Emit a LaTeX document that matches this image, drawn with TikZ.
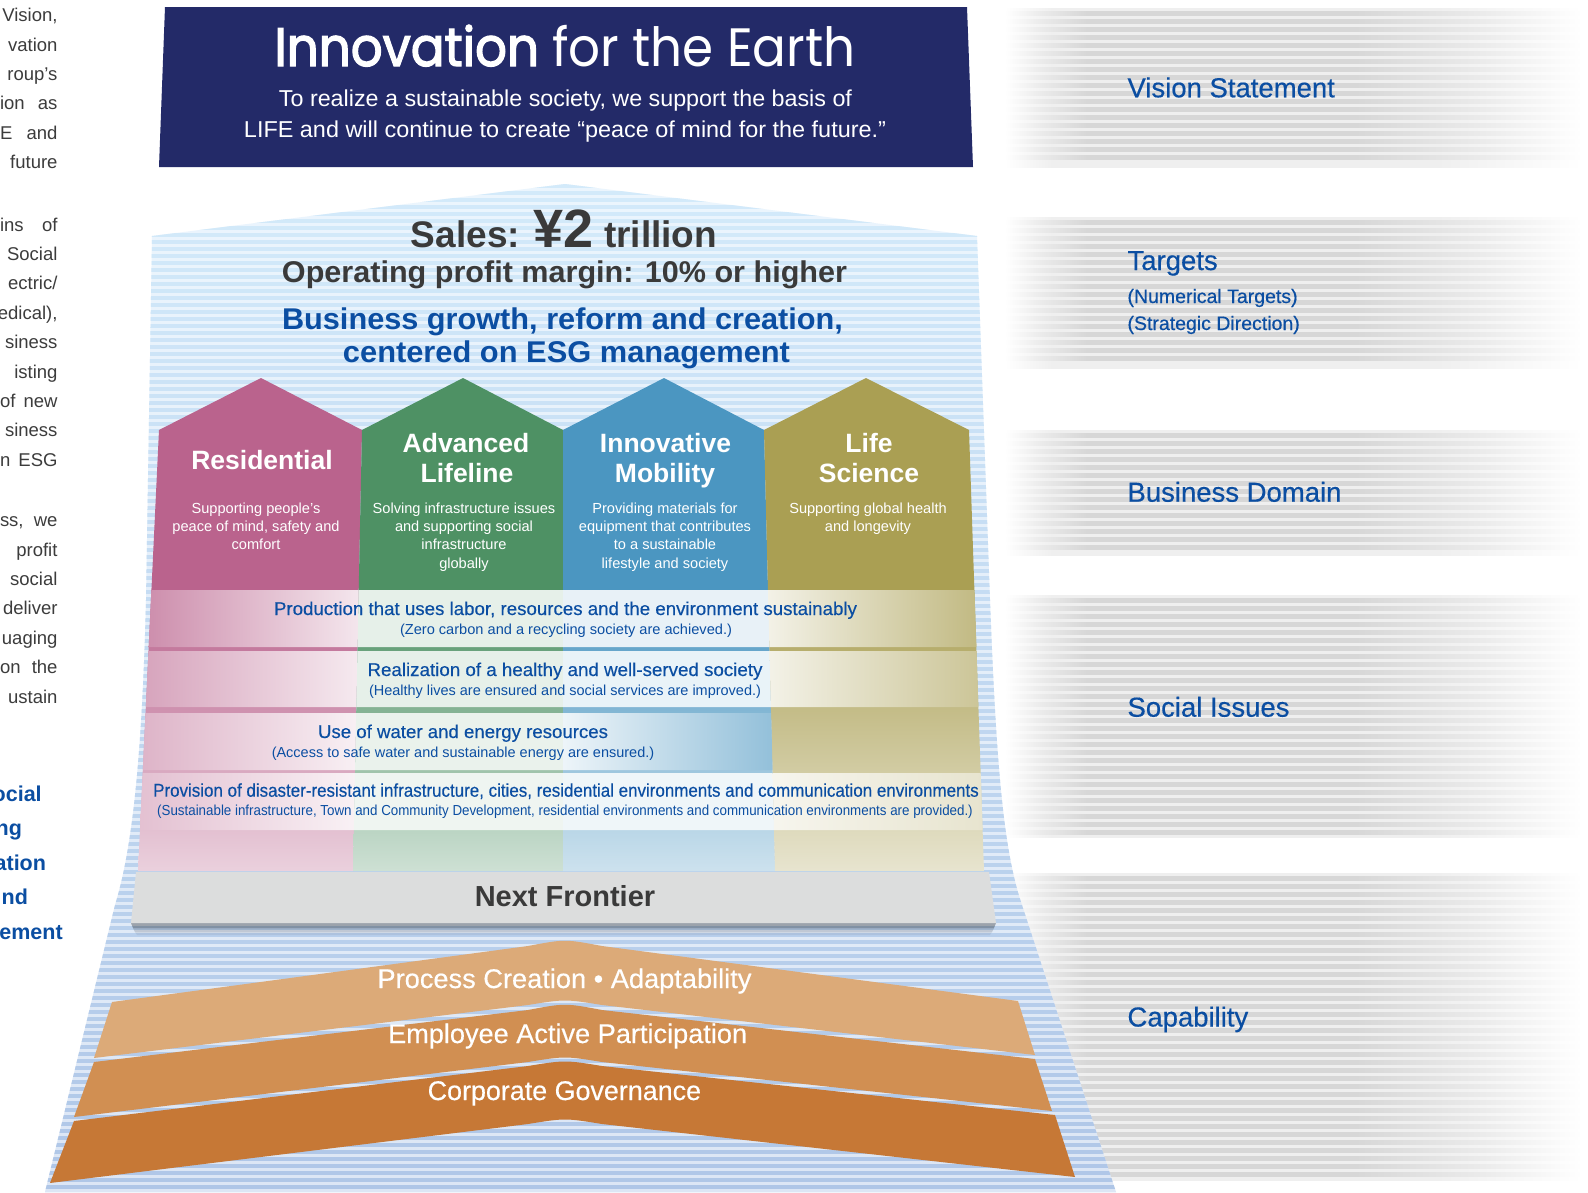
\documentclass[tikz,border=0pt]{standalone}
\usepackage{fontspec}
\usepackage{graphicx}
\setmainfont{Liberation Sans}
\newfontfamily\titlefont{Poppins}
\newfontfamily\titlefontb[FakeBold=2.5]{Poppins}
\newfontfamily\medfont[FakeBold=0.4]{Liberation Sans}
\usetikzlibrary{calc}

\definecolor{navy}{HTML}{232A68}
\definecolor{pk}{HTML}{BA638D}
\definecolor{gr}{HTML}{4E9164}
\definecolor{bl}{HTML}{4B96C1}
\definecolor{ol}{HTML}{AA9F53}
\definecolor{txtblue}{HTML}{0B4EA2}
\definecolor{darktxt}{HTML}{3A3A3A}
\definecolor{paratxt}{HTML}{3C3C3C}
\definecolor{nfgray}{HTML}{DCDDDD}
\definecolor{ca}{HTML}{DCAA78}
\definecolor{cb}{HTML}{D18F52}
\definecolor{cc}{HTML}{C67836}
\definecolor{stTopA}{HTML}{EBF5FD}
\definecolor{stTopB}{HTML}{D3EAFA}
\definecolor{stBotA}{HTML}{DCE6F5}
\definecolor{stBotB}{HTML}{AFC6E7}
\definecolor{gD}{HTML}{D7D7D7}
\definecolor{gL}{HTML}{EFEFEF}
\colorlet{gDh}{gD!50!white}
\colorlet{gDq}{gD!50!white}

\pgfdeclarehorizontalshading{bandD}{100bp}{color(0bp)=(white); color(25bp)=(white); color(28bp)=(gDh); color(32bp)=(gD); color(55bp)=(gD); color(66bp)=(gDq); color(74.5bp)=(white); color(100bp)=(white)}
\pgfdeclarehorizontalshading{bandL}{100bp}{color(0bp)=(white); color(25bp)=(white); color(29bp)=(gL); color(62bp)=(gL); color(74.5bp)=(white); color(100bp)=(white)}

\newcommand\fitw[2]{\resizebox{#1pt}{\height}{#2}}
\newcommand\just[1]{\makebox[57.5pt][s]{#1}}

\newcommand\grayband[2]{%
  \shade[shading=bandL] (1005,#1) rectangle (1588,#2);
  \pgfmathtruncatemacro\gbN{(#2-#1-8)/8}%
  \foreach \k in {0,...,\gbN}{%
    \shade[shading=bandD] (1005,{#1+3+8*\k}) rectangle (1588,{#1+7.5+8*\k});
  }%
}

\tikzset{
  t/.style={anchor=base, inner sep=0pt, outer sep=0pt},
  tl/.style={anchor=base west, inner sep=0pt, outer sep=0pt},
  tr/.style={anchor=base east, inner sep=0pt, outer sep=0pt},
  wtitle/.style={t, text=white, font=\bfseries\fontsize{26.5}{29}\selectfont},
  wdesc/.style={t, text=white, font=\fontsize{14.6}{17}\selectfont},
  issue/.style={t, text=txtblue, font=\medfont\fontsize{18.5}{21}\selectfont},
  issuesub/.style={t, text=txtblue, font=\fontsize{14.5}{17}\selectfont},
  capa/.style={t, text=white, font=\medfont\fontsize{27}{30}\selectfont},
  rlabel/.style={tl, text=txtblue, font=\medfont\fontsize{27.5}{30}\selectfont},
  rsub/.style={tl, text=txtblue, font=\medfont\fontsize{19.5}{22}\selectfont},
  para/.style={tr, text=paratxt, font=\fontsize{18.5}{22}\selectfont},
  parab/.style={tr, text=txtblue, font=\bfseries\fontsize{21.5}{25}\selectfont},
}

\begin{document}
\begin{tikzpicture}[x=1pt,y=-1pt]
\useasboundingbox (0,0) rectangle (1588,1192);
\fill[white] (0,0) rectangle (1588,1192);

% ---------- right grey label bands ----------
\grayband{8}{167}
\grayband{217}{368}
\grayband{430}{555}
\grayband{595}{837}
\grayband{873}{1180}

% ---------- light blue striped background shape ----------
\begin{scope}
\clip (565,184) -- (977,236) -- (990,600) .. controls (996,760) and (1003,850) .. (1022,905) -- (1116,1192) -- (45,1192) -- (115,905) .. controls (132,850) and (142,760) .. (146,600) -- (152,236) -- cycle;
\shade[top color=stTopA, bottom color=stBotA] (0,180) rectangle (1200,1192);
\foreach \k in {0,...,144}{%
  \pgfmathtruncatemacro\pp{100*\k/144}%
  \fill[stBotB!\pp!stTopB] (0,{184+7*\k}) rectangle (1200,{187.5+7*\k});
}
\end{scope}

% ---------- vision banner ----------
\fill[navy] (165,7) -- (967,7) -- (973,167) -- (159,167) -- cycle;
\node[t, text=white] (title) at (565,66) {\fitw{581}{\fontsize{54}{56}\selectfont\titlefontb Innovation \titlefont for the Earth}};
\node[t, text=white, font=\fontsize{23}{26}\selectfont] (sub1) at (565.5,106) {\fitw{573}{To realize a sustainable society, we support the basis of}};
\node[t, text=white, font=\fontsize{23}{26}\selectfont] (sub2) at (565,137) {\fitw{642}{LIFE and will continue to create “peace of mind for the future.”}};

% ---------- targets ----------
\node[t, text=darktxt] (sales) at (564,247) {\bfseries\fontsize{37}{40}\selectfont Sales: {\fontsize{54}{56}\selectfont ¥2} trillion};
\node[t, text=darktxt, font=\bfseries\fontsize{30}{33}\selectfont] (opm) at (564.5,282) {\fitw{565}{Operating profit margin: 10\% or higher}};
\node[t, text=txtblue, font=\bfseries\fontsize{30}{33}\selectfont] (bg1) at (562.5,329) {\fitw{561}{Business growth, reform and creation,}};
\node[t, text=txtblue, font=\bfseries\fontsize{30}{33}\selectfont] (bg2) at (566.5,362) {\fitw{447}{centered on ESG management}};

% ---------- pillars: upper solid part ----------
\fill[pk] (159,430) -- (261,378) -- (362,430) -- (358.7,590.5) -- (151.4,590.5) -- cycle;
\fill[gr] (362,430) -- (463,378) -- (563,430) -- (563,590.5) -- (358.7,590.5) -- cycle;
\fill[bl] (563,430) -- (664,378) -- (764,430) -- (768,590.5) -- (563,590.5) -- cycle;
\fill[ol] (764,430) -- (866,378) -- (969,430) -- (974.4,590.5) -- (768,590.5) -- cycle;
% lower fading part
\shade[top color=pk, bottom color=pk!30!white] (151.4,590) -- (358.7,590) -- (353,871) -- (138,871) -- cycle;
\shade[top color=gr, bottom color=gr!28!white] (358.7,590) -- (563,590) -- (563,871) -- (353,871) -- cycle;
\shade[top color=bl, bottom color=bl!28!white] (563,590) -- (768,590) -- (775,871) -- (563,871) -- cycle;
\shade[top color=ol, bottom color=ol!28!white] (768,590) -- (974.4,590) -- (984,871) -- (775,871) -- cycle;

% ---------- social issue rows ----------
% row 1
\shade[left color=pk!72!white, right color=pk!16!white] (151.4,590) -- (358.7,590) -- (357.6,647) -- (148.7,647) -- cycle;
\fill[gr!14!white] (358.7,590) -- (563,590) -- (563,647) -- (357.6,647) -- cycle;
\fill[bl!13!white] (563,590) -- (768,590) -- (769.4,647) -- (563,647) -- cycle;
\shade[left color=ol!14!white, right color=ol!72!white] (768,590) -- (974.4,590) -- (976.4,647) -- (769.4,647) -- cycle;
% row 2
\shade[left color=pk!58!white, right color=pk!14!white] (148.5,651) -- (357.5,651) -- (356.3,707) -- (145.8,707) -- cycle;
\fill[gr!14!white] (357.5,651) -- (563,651) -- (563,707) -- (356.3,707) -- cycle;
\fill[bl!12!white] (563,651) -- (769.5,651) -- (770.9,707) -- (563,707) -- cycle;
\shade[left color=ol!14!white, right color=ol!60!white] (769.5,651) -- (976.5,651) -- (978.4,707) -- (770.9,707) -- cycle;
% row 3
\shade[left color=pk!48!white, right color=pk!10!white] (145.5,713) -- (356.2,713) -- (355.1,770) -- (142.8,770) -- cycle;
\fill[gr!12!white] (356.2,713) -- (563,713) -- (563,770) -- (355.1,770) -- cycle;
\shade[left color=bl!10!white, middle color=bl!22!white, right color=bl!60!white] (563,713) -- (771.1,713) -- (772.5,770) -- (563,770) -- cycle;
% row 4
\shade[left color=pk!40!white, right color=pk!9!white] (142.7,773) -- (355,773) -- (353.8,830) -- (140,830) -- cycle;
\fill[gr!9!white] (355,773) -- (563,773) -- (563,830) -- (353.8,830) -- cycle;
\fill[bl!9!white] (563,773) -- (772.6,773) -- (774,830) -- (563,830) -- cycle;
\shade[left color=ol!10!white, right color=ol!28!white] (772.6,773) -- (980.7,773) -- (982.6,830) -- (774,830) -- cycle;

% ---------- pillar texts ----------
\node[wtitle] (resT) at (262,469) {Residential};
\node[wtitle] (advT1) at (466,452) {Advanced};
\node[wtitle] (advT2) at (467,482) {Lifeline};
\node[wtitle] (innT1) at (665.5,452) {Innovative};
\node[wtitle] (innT2) at (665,482) {Mobility};
\node[wtitle] (lifT1) at (869,452) {Life};
\node[wtitle] (lifT2) at (869,482) {Science};

\node[wdesc] (resD1) at (256,513.3) {Supporting people’s};
\node[wdesc] (resD2) at (256,531.6) {peace of mind, safety and};
\node[wdesc] (resD3) at (256,549.9) {comfort};
\node[wdesc] (advD1) at (464,513.3) {Solving infrastructure issues};
\node[wdesc] (advD2) at (464,531.6) {and supporting social};
\node[wdesc] (advD3) at (464,549.9) {infrastructure};
\node[wdesc] (advD4) at (464,568.2) {globally};
\node[wdesc] (innD1) at (665,513.3) {Providing materials for};
\node[wdesc] (innD2) at (665,531.6) {equipment that contributes};
\node[wdesc] (innD3) at (665,549.9) {to a sustainable};
\node[wdesc] (innD4) at (665,568.2) {lifestyle and society};
\node[wdesc] (lifD1) at (868,513.3) {Supporting global health};
\node[wdesc] (lifD2) at (868,531.6) {and longevity};

% ---------- social issue texts ----------
\node[issue] (r1a) at (565.5,615) {\fitw{583}{Production that uses labor, resources and the environment sustainably}};
\node[issuesub] (r1b) at (566,634) {\fitw{332}{(Zero carbon and a recycling society are achieved.)}};
\node[issue] (r2a) at (565,676) {\fitw{395}{Realization of a healthy and well-served society}};
\node[issuesub] (r2b) at (565,695) {\fitw{392}{(Healthy lives are ensured and social services are improved.)}};
\node[issue] (r3a) at (463,738) {\fitw{290}{Use of water and energy resources}};
\node[issuesub] (r3b) at (463,757.7) {\fitw{382.5}{(Access to safe water and sustainable energy are ensured.)}};
\node[issue] (r4a) at (566,796.7) {\fitw{825.6}{Provision of disaster-resistant infrastructure, cities, residential environments and communication environments}};
\node[issuesub] (r4b) at (565,815.7) {\fitw{815.6}{(Sustainable infrastructure, Town and Community Development, residential environments and communication environments are provided.)}};

% ---------- next frontier ----------
\fill[black, opacity=0.30] (131,923) -- (996,923) -- (994,928) -- (133,928) -- cycle;
\fill[black, opacity=0.14] (133,928) -- (994,928) -- (992,932) -- (135,932) -- cycle;
\fill[black, opacity=0.06] (135,932) -- (992,932) -- (990,935) -- (137,935) -- cycle;
\fill[nfgray] (136,872) -- (989,872) -- (996,923) -- (131,923) -- cycle;
\node[t, text=darktxt, font=\bfseries\fontsize{29}{32}\selectfont] (nf) at (565,906) {Next Frontier};

% ---------- capability chevrons ----------
\fill[ca] (112,1002) -- (528,946) .. controls (565,939) .. (602,946) -- (1018,1001) -- (1035,1055) -- (602,1005) .. controls (565,999) .. (528,1005) -- (94,1058) -- cycle;
\fill[cb] (94,1062) -- (528,1010) .. controls (565,1003) .. (602,1010) -- (1035,1059) -- (1052,1111) -- (602,1062) .. controls (565,1056) .. (528,1062) -- (74,1117) -- cycle;
\fill[cc] (74,1121) -- (528,1066) .. controls (565,1060) .. (602,1066) -- (1055,1115) -- (1075,1177) -- (602,1124) .. controls (565,1118) .. (528,1124) -- (50,1183) -- cycle;
\node[capa] (cap1) at (564.5,988) {\fitw{374}{Process Creation • Adaptability}};
\node[capa] (cap2) at (567.6,1043) {\fitw{359}{Employee Active Participation}};
\node[capa] (cap3) at (564.4,1100) {\fitw{273.4}{Corporate Governance}};

% ---------- right labels ----------
\node[rlabel] (lVision) at (1127.5,97.3) {Vision Statement};
\node[rlabel] (lTargets) at (1127.5,270) {Targets};
\node[rsub] (lNum) at (1127.5,303) {(Numerical Targets)};
\node[rsub] (lStrat) at (1127.5,330) {(Strategic Direction)};
\node[rlabel] (lBiz) at (1127.5,501.7) {Business Domain};
\node[rlabel] (lSoc) at (1127.5,716.7) {Social Issues};
\node[rlabel] (lCap) at (1127.5,1026.5) {Capability};

% ---------- cut-off paragraph text on the left ----------
\node[para] (p1) at (57.5,21.7) {Vision,};
\node[para] (p2) at (57.5,51.1) {vation};
\node[para] (p3) at (57.5,80.5) {roup’s};
\node[para] (p4) at (57.5,109.9) {\just{ion as}};
\node[para] (p5) at (57.5,139.3) {\just{E and}};
\node[para] (p6) at (57.5,168.7) {future};
\node[para] (p7) at (57.5,231) {\just{ins of}};
\node[para] (p8) at (57.5,260.4) {Social};
\node[para] (p9) at (57.5,289.8) {ectric/};
\node[para] (p10) at (57.5,319.2) {edical),};
\node[para] (p11) at (57.5,348.6) {siness};
\node[para] (p12) at (57.5,378) {isting};
\node[para] (p13) at (57.5,407.4) {\just{of new}};
\node[para] (p14) at (57.5,436.8) {siness};
\node[para] (p15) at (57.5,466.2) {\just{n ESG}};
\node[para] (p16) at (57.5,526.7) {\just{ss, we}};
\node[para] (p17) at (57.5,556.1) {profit};
\node[para] (p18) at (57.5,585.5) {social};
\node[para] (p19) at (57.5,614.9) {deliver};
\node[para] (p20) at (57.5,644.3) {uaging};
\node[para] (p21) at (57.5,673.7) {\just{on the}};
\node[para] (p22) at (57.5,703.1) {ustain};
\node[parab] (b1) at (41.7,801.5) {ocial};
\node[parab] (b2) at (22,835.8) {ng};
\node[parab] (b3) at (46,870) {ation};
\node[parab] (b4) at (28,904.5) {nd};
\node[parab] (b5) at (62.7,939.5) {ement};
\end{tikzpicture}
\end{document}
